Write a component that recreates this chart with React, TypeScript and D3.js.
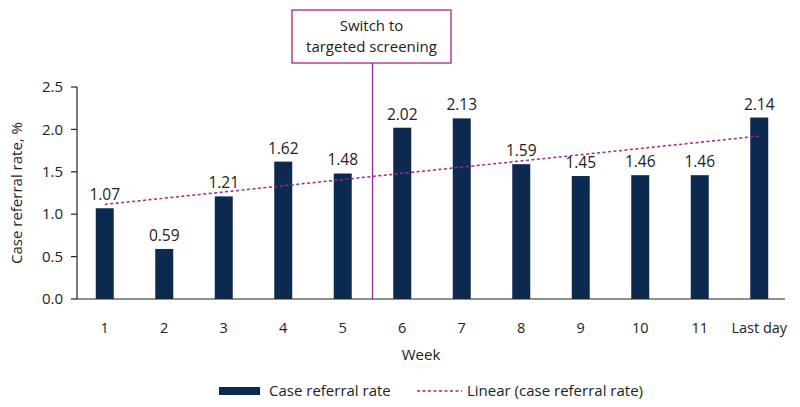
import React from 'react';
import * as d3 from 'd3';

const weeks = ['1', '2', '3', '4', '5', '6', '7', '8', '9', '10', '11', 'Last day'];
const referralRates = [1.07, 0.59, 1.21, 1.62, 1.48, 2.02, 2.13, 1.59, 1.45, 1.46, 1.46, 2.14];
const yTicks = [0, 0.5, 1.0, 1.5, 2.0, 2.5];
const switchAfterWeek = '5';
const annotationLines = ['Switch to', 'targeted screening'];

const BAR = '#0c2a4f';
const MAGENTA = '#a3268c';
const FONT = '"Open Sans", "Noto Sans", sans-serif';

export default function App() {
  const width = 800;
  const height = 407;
  const margin = { top: 87, right: 15, bottom: 108, left: 77 };

  const x = d3
    .scaleBand()
    .domain(weeks)
    .range([margin.left - 2, width - margin.right + 4]);

  const y = d3
    .scaleLinear()
    .domain([0, 2.5])
    .range([height - margin.bottom, margin.top]);

  const barW = 18;
  const cx = (w: string) => (x(w) as number) + x.bandwidth() / 2;

  // linear trend (least squares) over week index
  const idx = referralRates.map((_, i) => i + 1);
  const mx = d3.mean(idx) as number;
  const my = d3.mean(referralRates) as number;
  const slope =
    d3.sum(idx, (v, i) => (v - mx) * (referralRates[i] - my)) /
    d3.sum(idx, (v) => (v - mx) ** 2);
  const trendLine = d3
    .line<number>()
    .x((i) => cx(weeks[i]))
    .y((i) => y(my + slope * (i + 1 - mx)));

  const switchIdx = weeks.indexOf(switchAfterWeek);
  const switchX = (cx(weeks[switchIdx]) + cx(weeks[switchIdx + 1])) / 2;
  const y0 = y(0);

  return (
    <svg
      width={width}
      height={height}
      style={{ position: 'absolute', left: 0, top: 0, background: '#fff' }}
      fontFamily={FONT}
    >
      {/* annotation */}
      <rect x={292} y={10} width={159} height={53} fill="#fff" stroke={MAGENTA} strokeWidth={1.3} />
      {annotationLines.map((t, i) => (
        <text key={t} x={371.5} y={31 + i * 21} textAnchor="middle" fontSize={15} fill="#222">
          {t}
        </text>
      ))}
      <line x1={switchX} x2={switchX} y1={63} y2={y0} stroke={MAGENTA} strokeWidth={1.3} />

      {/* y axis */}
      <line x1={margin.left} x2={margin.left} y1={y(2.5)} y2={y0} stroke="#222" strokeWidth={1.2} />
      {yTicks.map((t) => (
        <g key={t} transform={`translate(0,${y(t)})`}>
          <line x1={margin.left - 6} x2={margin.left} stroke="#222" strokeWidth={1.2} />
          <text x={margin.left - 14} dy="0.35em" textAnchor="end" fontSize={15} fill="#222">
            {d3.format('.1f')(t)}
          </text>
        </g>
      ))}
      <text
        transform={`translate(22,${(y(0) + y(2.5)) / 2}) rotate(-90)`}
        textAnchor="middle"
        fontSize={15}
        fill="#222"
      >
        Case referral rate, %
      </text>

      {/* bars */}
      {weeks.map((w, i) => (
        <g key={w}>
          <rect x={cx(w) - barW / 2} y={y(referralRates[i])} width={barW} height={y0 - y(referralRates[i])} fill={BAR} />
          <text x={cx(w)} y={y(referralRates[i]) - 8} textAnchor="middle" fontSize={15.5} fill="#222">
            {referralRates[i].toFixed(2)}
          </text>
          <text x={cx(w)} y={y0 + 34} textAnchor="middle" fontSize={14.5} fill="#222">
            {w}
          </text>
        </g>
      ))}

      {/* trend */}
      <path
        d={trendLine([0, weeks.length - 1]) as string}
        fill="none"
        stroke={MAGENTA}
        strokeWidth={1.5}
        strokeDasharray="3,2.5"
      />

      {/* x axis */}
      <line x1={margin.left} x2={785} y1={y0} y2={y0} stroke="#222" strokeWidth={1.2} />
      <text x={421} y={360} textAnchor="middle" fontSize={15} fill="#222">
        Week
      </text>

      {/* legend */}
      <rect x={219} y={387} width={41} height={8} fill={BAR} />
      <text x={269} y={396} fontSize={15} fill="#222">
        Case referral rate
      </text>
      <line x1={417} x2={462} y1={391} y2={391} stroke={MAGENTA} strokeWidth={1.5} strokeDasharray="3,2.5" />
      <text x={467} y={396} fontSize={15} fill="#222">
        Linear (case referral rate)
      </text>
    </svg>
  );
}
